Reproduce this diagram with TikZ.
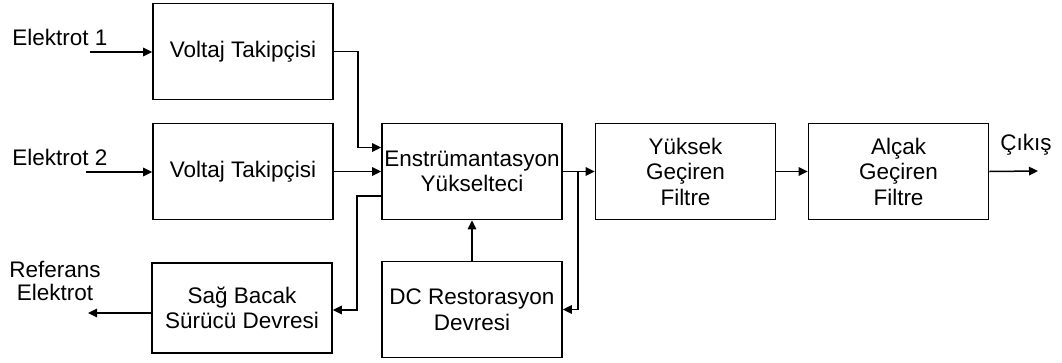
\documentclass[tikz,border=0pt]{standalone}
\usepackage{fontspec}
\setmainfont{Liberation Sans}
\usepackage{tikz}
\usetikzlibrary{arrows.meta}
\colorlet{figink}{black}

\begin{document}
\begin{tikzpicture}[
  x=1pt, y=-1pt,
  font=\fontsize{22.5}{25.5}\selectfont,
  block/.style={draw=figink, line width=1.7pt, minimum width=180pt, minimum height=96pt, inner sep=0pt, align=center},
  sig/.style={draw=figink, line width=1.5pt, -{Triangle[length=9pt,width=8.5pt]}},
  lab/.style={inner sep=0pt, align=center},
]
  \useasboundingbox (0,0) rectangle (1062,362);
  % blocks: followers and right-leg driver on the left, amplifier chain on the right
  \node[block] (vt1) at (243,51.5) {Voltaj Takipçisi};
  \node[block] (vt2) at (243,171.5) {Voltaj Takipçisi};
  \node[block, minimum height=90pt] (sbd) at (242,308) {Sağ Bacak\\Sürücü Devresi};
  \node[block] (enst) at (472,171.5) {Enstrümantasyon\\Yükselteci};
  \node[block] (dc) at (472,309.5) {DC Restorasyon\\Devresi};
  \node[block] (ygf) at (685.5,171.5) {Yüksek\\Geçiren\\Filtre};
  \node[block] (agf) at (898.5,171.5) {Alçak\\Geçiren\\Filtre};

  \node[lab] (e1lab) at (60,37) {Elektrot 1};
  \node[lab] (e2lab) at (60,157) {Elektrot 2};
  \node[lab, font=\fontsize{22.5}{23}\selectfont] (reflab) at (55,281) {Referans\\Elektrot};
  \node[lab] (outlab) at (1026,145) {Çıkış};

  \coordinate (e1in) at (90,52);
  \coordinate (e2in) at (86,172);
  \coordinate (refout) at (88,313);
  \coordinate (out) at (1038,171);
  \coordinate (tap) at (578,171);

  \draw[sig] (e1in) -- (e1in -| vt1.west);
  \draw[sig] (e2in) -- (e2in -| vt2.west);
  \draw[sig] (vt1.east) -- ++(24,0) |- ([yshift=24pt]enst.west);
  \draw[sig] (vt2.east) -- (vt2.east -| enst.west);
  \draw[sig] ([yshift=-24.5pt]enst.west) -- ++(-24,0) |- ([yshift=-2pt]sbd.east);
  \draw[sig] (sbd.west |- refout) -- (refout);
  \draw[sig] (dc.north) -- (enst.south);
  \draw[sig] (enst.east) -- (enst.east -| ygf.west);
  \draw[sig] (tap) |- (dc.east);
  \draw[sig] (ygf.east) -- (agf.west);
  \draw[sig] (agf.east) -- (out);
\end{tikzpicture}
\end{document}
